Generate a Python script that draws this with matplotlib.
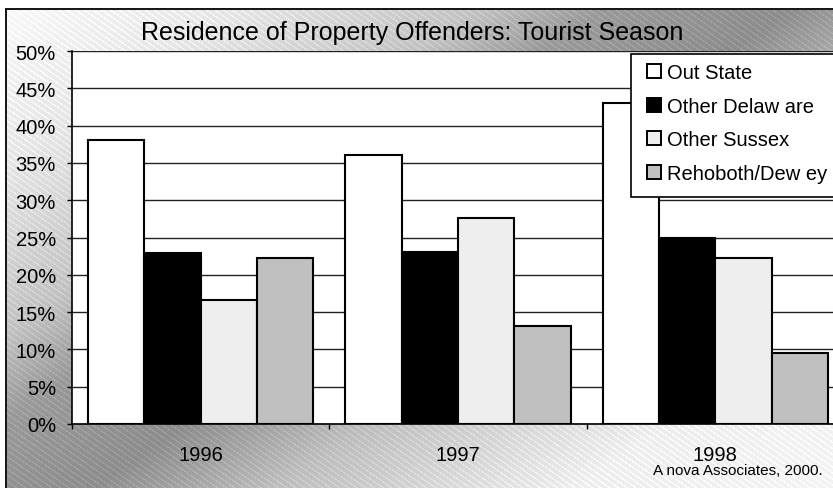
import numpy as np
import matplotlib
matplotlib.use("Agg")
import matplotlib.pyplot as plt
from matplotlib.patches import Patch, Rectangle

plt.rcParams['font.family'] = ['Liberation Sans', 'DejaVu Sans']

# data
years = ["1996", "1997", "1998"]
series = ["Out State", "Other Delaw are", "Other Sussex", "Rehoboth/Dew ey"]
out_state = [38.1, 36.1, 43.0]
other_delaware = [22.9, 23.1, 25.0]
other_sussex = [16.6, 27.6, 22.3]
rehoboth = [22.3, 13.1, 9.5]
yticks = [0, 5, 10, 15, 20, 25, 30, 35, 40, 45, 50]

values = [out_state, other_delaware, other_sussex, rehoboth]
colors = ["white", "black", "#eeeeee", "#c0c0c0"]

W, H = 833, 489
fig = plt.figure(figsize=(W/100, H/100), dpi=100)

#background: mirrored diagonal gradient with thin light stripes
xx, yy = np.meshgrid(np.arange(W), np.arange(H))
v = xx/700.0 + yy/480.0
g = np.interp(v, [0, 0.35, 0.7, 0.88, 1.15, 1.41, 1.84, 2.4],
              [0.98, 0.9, 0.76, 0.6, 0.55, 0.74, 0.93, 0.97])
a = np.radians(35)
d = -xx*np.sin(a) + yy*np.cos(a)
stripe = (np.mod(d, 5.0) < 1.2)
g = np.where(stripe, np.minimum(g+0.07, 1.0), g)
g[:9, :] = 1.0
g[:, :5] = 1.0
g[9:11, 5:] = 0.1
g[9:, 5:7] = 0.1
bg = fig.add_axes([0, 0, 1, 1], zorder=-10)
bg.imshow(np.dstack([g, g, g]), extent=(0, W, H, 0), aspect='auto', interpolation='nearest')
bg.set_axis_off()

#plot area (runs past the right edge like the original crop)
left, right, top, bottom = 72, 844, 52, 425
ax = fig.add_axes([left/W, 1-bottom/H, (right-left)/W, (bottom-top)/H])
ax.set_facecolor("white")

x = np.arange(len(years))
w = 0.21875
for i, (vals, c) in enumerate(zip(values, colors)):
    ax.bar(x + (i-1.5)*w, vals, width=w, color=c, edgecolor="black", linewidth=1.5, zorder=3)

ax.set_xlim(-0.5, 2.5)
ax.set_ylim(0, 50)
ax.set_yticks(yticks)
ax.set_yticklabels([str(t)+"%" for t in yticks], fontsize=14.5)
ax.yaxis.grid(True, color="#222222", linewidth=1.0, zorder=0)
ax.tick_params(axis='y', direction='out', length=3.6, width=1, pad=8)

ax.set_xticks(x)
ax.set_xticklabels(years, fontsize=14.5)
ax.set_xticks([-0.5, 0.5, 1.5, 2.5], minor=True)
ax.tick_params(axis='x', which='major', length=0, pad=15)
ax.tick_params(axis='x', which='minor', direction='out', length=3.6, width=1)

for s in ["top", "right"]:
    ax.spines[s].set_visible(False)
for s in ["left", "bottom"]:
    ax.spines[s].set_color("black")
    ax.spines[s].set_linewidth(1.2)

#legend box drawn by hand so the padding matches
fig.patches.append(Rectangle((631/W, 1-198/H), 215/W, 143/H, transform=fig.transFigure,
                             facecolor="white", edgecolor="black", linewidth=1.2, zorder=5))
handles = [Patch(facecolor=c, edgecolor="black", linewidth=1.4) for c in colors]
leg = fig.legend(handles, series, loc="upper left", bbox_to_anchor=(647/W, 1-64/H),
                 fontsize=14.5, frameon=False, borderaxespad=0, borderpad=0,
                 handlelength=0.7, handleheight=0.7, handletextpad=0.28,
                 labelspacing=0.73)
leg.set_zorder(6)

fig.text(412/W, 1-33/H, "Residence of Property Offenders: Tourist Season",
         fontsize=18, ha="center", va="center")
fig.text(823/W, 1-471/H, "A nova Associates, 2000.", fontsize=11,
         ha="right", va="center")

fig.savefig("out.png", dpi=100)
